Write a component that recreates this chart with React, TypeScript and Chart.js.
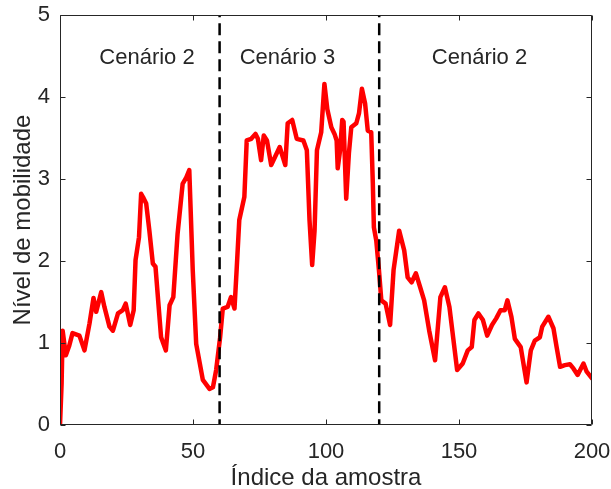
import React, { useEffect, useRef } from "react";
import { Chart, registerables } from "chart.js";

Chart.register(...registerables);

// ---- data ----
const sampleIndex = [
  0, 0.6, 1, 2.2, 3.5, 4.7, 7.3, 9.2, 11.1, 12.6, 13.6, 15.5, 16.7, 18.6, 19.9, 21.8, 23.6, 24.7,
  26.4, 27.7, 28.4, 29.7, 30.5, 31.2, 32.4, 33.6, 34.9, 35.9, 38.0, 39.8, 41.2, 42.6, 44.2, 46.1,
  47.5, 48.6, 49.9, 51.2, 53.7, 56.2, 57.5, 58.7, 60.2, 61.2, 63.0, 64.3, 65.6, 66.4, 67.4, 69.3,
  70.2, 71.9, 73.5, 74.4, 75.6, 76.6, 77.8, 79.4, 82.6, 84.7, 85.6, 87.3, 89.0, 91.5, 92.8, 93.8,
  94.8, 95.7, 96.6, 98.2, 99.4, 100.5, 102.0, 103.2, 104.0, 104.4, 105.3, 106.1, 106.6, 107.6,
  108.6, 109.5, 111.4, 112.4, 113.5, 114.7, 115.7, 117.0, 117.6, 118.0, 118.9, 119.9, 120.8,
  122.4, 124.1, 125.4, 127.5, 129.4, 130.7, 132.2, 133.8, 135.4, 136.9, 138.8, 141.0, 143.0,
  144.7, 146.4, 149.3, 151.4, 153.3, 154.8, 155.8, 157.3, 159.0, 160.6, 162.4, 164.0, 165.6,
  167.2, 168.2, 169.7, 171.0, 173.2, 175.4, 177.0, 178.5, 180.4, 181.3, 183.6, 185.5, 186.7,
  188.0, 189.8, 191.7, 193.0, 194.6, 196.8, 198.0, 200,
];
const mobilityLevel = [
  0, 0.5, 1.15, 0.85, 0.97, 1.12, 1.09, 0.91, 1.24, 1.55, 1.38, 1.62, 1.44, 1.2, 1.15, 1.36, 1.4, 1.48,
  1.22, 1.4, 2.01, 2.29, 2.82, 2.78, 2.7, 2.37, 1.97, 1.93, 1.07, 0.91, 1.46, 1.56, 2.33, 2.94,
  3.02, 3.11, 1.89, 0.99, 0.55, 0.44, 0.46, 0.67, 1.07, 1.42, 1.44, 1.56, 1.42, 1.89, 2.5, 2.78,
  3.47, 3.49, 3.55, 3.49, 3.23, 3.53, 3.47, 3.17, 3.39, 3.17, 3.68, 3.72, 3.49, 3.47, 3.35, 2.5,
  1.95, 2.37, 3.35, 3.57, 4.16, 3.85, 3.63, 3.55, 3.47, 3.13, 3.35, 3.72, 3.7, 2.76,
  3.31, 3.63, 3.68, 3.8, 4.1, 3.92, 3.59, 3.57, 2.95, 2.41, 2.25, 1.89, 1.52,
  1.48, 1.22, 1.89, 2.37, 2.13, 1.8, 1.74, 1.85, 1.68, 1.52, 1.15, 0.79, 1.56,
  1.68, 1.44, 0.67, 0.75, 0.91, 0.95, 1.28, 1.36, 1.28, 1.09, 1.22, 1.3, 1.4,
  1.4, 1.52, 1.32, 1.05, 0.95, 0.52, 0.91, 1.03, 1.07, 1.2, 1.32, 1.18, 0.95,
  0.71, 0.73, 0.74, 0.69, 0.61, 0.75, 0.65, 0.57,
];
const scenarioDividers = [60, 120];
const scenarioLabels = ["Cenário 2", "Cenário 3", "Cenário 2"];
const scenarioLabelX = [32.7, 85.5, 157.7];
const scenarioLabelY = 4.4;
const xTicks = [0, 50, 100, 150, 200];
const yTicks = [0, 1, 2, 3, 4, 5];

const FONT = "'Liberation Sans', Arial, sans-serif";
const INK = "#262626";

const matlabBox = {
  id: "matlabBox",
  afterDatasetsDraw(chart: any) {
    const { ctx, chartArea: a, scales } = chart;
    const xs = scales.x;
    const ys = scales.y;
    ctx.save();
    ctx.strokeStyle = INK;
    ctx.lineWidth = 1;
    const L = a.left + 0.5;
    const R = a.right - 0.5;
    const T = a.top + 0.5;
    const B = a.bottom - 0.5;
    ctx.beginPath();
    ctx.rect(L, T, R - L, B - T);
    const tl = 5;
    xTicks.forEach((v) => {
      const p = Math.round(xs.getPixelForValue(v)) + 0.5;
      ctx.moveTo(p, B);
      ctx.lineTo(p, B - tl);
      ctx.moveTo(p, T);
      ctx.lineTo(p, T + tl);
    });
    yTicks.forEach((v) => {
      const p = Math.round(ys.getPixelForValue(v)) + 0.5;
      ctx.moveTo(L, p);
      ctx.lineTo(L + tl, p);
      ctx.moveTo(R, p);
      ctx.lineTo(R - tl, p);
    });
    ctx.stroke();
    ctx.fillStyle = INK;
    ctx.font = `22px ${FONT}`;
    ctx.textAlign = "center";
    ctx.textBaseline = "alphabetic";
    scenarioLabels.forEach((t, i) => {
      ctx.fillText(t, xs.getPixelForValue(scenarioLabelX[i]), ys.getPixelForValue(scenarioLabelY));
    });
    ctx.restore();
  },
};

const zeroPad = (s: any) => {
  s.paddingLeft = 0;
  s.paddingRight = 0;
  s.paddingTop = 0;
  s.paddingBottom = 0;
};

export default function App() {
  const ref = useRef<HTMLCanvasElement | null>(null);
  useEffect(() => {
    if (!ref.current) return;
    const mainData = sampleIndex.map((x, i) => ({ x, y: mobilityLevel[i] }));
    const dividerSets = scenarioDividers.map((d) => ({
      data: [
        { x: d, y: 5 },
        { x: d, y: 0 },
      ],
      borderColor: "#000000",
      borderWidth: 2.5,
      borderDash: [12, 6],
      borderDashOffset: 9.7,
      pointRadius: 0,
      fill: false,
      order: 0,
    }));
    const chart = new Chart(ref.current, {
      type: "line",
      data: {
        datasets: [
          ...dividerSets,
          {
            data: mainData,
            borderColor: "#ff0000",
            borderWidth: 4.5,
            pointRadius: 0,
            fill: false,
            tension: 0,
            borderJoinStyle: "round",
            borderCapStyle: "round",
            order: 1,
          },
        ],
      } as any,
      options: {
        animation: false,
        responsive: false,
        maintainAspectRatio: false,
        layout: { padding: { left: 0, top: 15, right: 19, bottom: 0 } },
        plugins: { legend: { display: false }, tooltip: { enabled: false } },
        scales: {
          x: {
            type: "linear",
            min: 0,
            max: 200,
            afterBuildTicks: (s: any) => {
              s.ticks = xTicks.map((v) => ({ value: v }));
            },
            ticks: {
              color: INK,
              font: { family: FONT, size: 22 },
              padding: 14,
              maxRotation: 0,
              autoSkip: false,
            },
            grid: { display: false, drawTicks: false },
            border: { display: false },
            title: {
              display: true,
              text: "Índice da amostra",
              color: INK,
              font: { family: FONT, size: 24, lineHeight: 1 },
              padding: { top: 0, bottom: -1 },
            },
            afterFit: (s: any) => {
              s.height = 64;
              zeroPad(s);
            },
          },
          y: {
            type: "linear",
            min: 0,
            max: 5,
            afterBuildTicks: (s: any) => {
              s.ticks = yTicks.map((v) => ({ value: v }));
            },
            ticks: {
              color: INK,
              font: { family: FONT, size: 22 },
              padding: 10,
              autoSkip: false,
            },
            grid: { display: false, drawTicks: false },
            border: { display: false },
            title: {
              display: true,
              text: "Nível de mobilidade",
              color: INK,
              font: { family: FONT, size: 24, lineHeight: 1 },
              padding: { top: 11, bottom: 0 },
            },
            afterFit: (s: any) => {
              s.width = 60;
              zeroPad(s);
            },
          },
        },
      } as any,
      plugins: [matlabBox],
    });
    return () => chart.destroy();
  }, []);
  return (
    <div style={{ position: "absolute", left: 0, top: 0, width: 611, height: 489, background: "#fff" }}>
      <canvas ref={ref} width={611} height={489} style={{ display: "block", width: 611, height: 489 }} />
    </div>
  );
}
